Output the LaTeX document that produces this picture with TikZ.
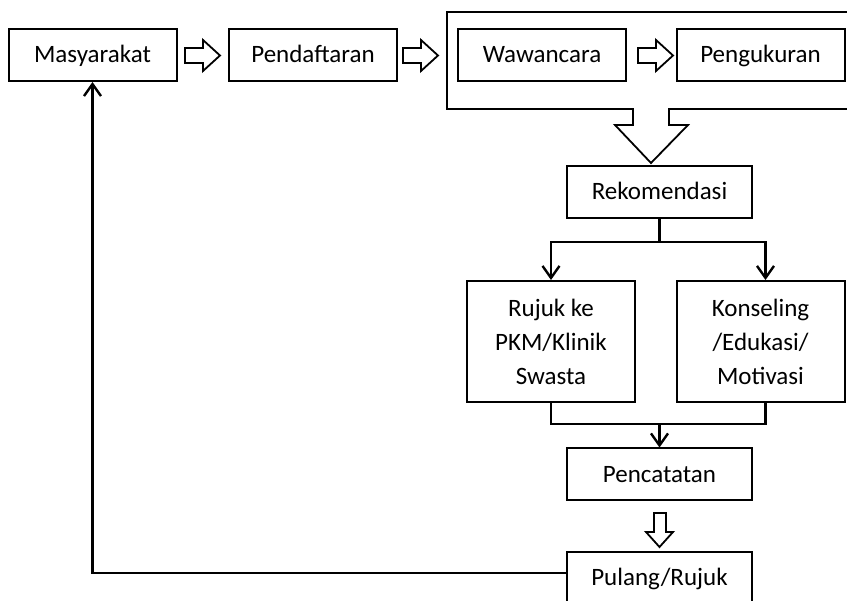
\documentclass[tikz,border=0pt]{standalone}
\usepackage{fontspec}
\setmainfont{Carlito}
\usetikzlibrary{arrows.meta}

\begin{document}
\begin{tikzpicture}[x=1pt, y=-1pt,
    base/.style = {draw, line width=2pt, minimum width=168pt, minimum height=52pt,
                  inner sep=0pt, align=center, font=\fontsize{25}{34}\selectfont},
    box/.style = {base, text height=18pt, text depth=2pt},
    wide/.style = {box, minimum width=185pt},
    tall/.style = {base, minimum height=121pt},
    conn/.style = {line width=2.4pt},
    flow/.style = {conn, -{Straight Barb[length=12pt,width=17pt]}},
    hollow/.style = {draw, line width=1.8pt, line join=miter}]
        \useasboundingbox (0,0) rectangle (847,601);
        \clip (0,0) rectangle (847,601);
        % top row
        \node[box] (masy) at (92.5,55) {Masyarakat};
        \node[box] (pend) at (313,55) {Pendaftaran};
        \node[box] (waw) at (542,55) {Wawancara};
        \node[box] (peng) at (760.5,55) {Pengukuran};
        \node[wide] (rek) at (659.5,192) {Rekomendasi};
        \node[tall] (rujuk) at (551,341.5) {Rujuk ke\\PKM/Klinik\\Swasta};
        \node[tall] (kons) at (760.5,341.5) {Konseling\\/Edukasi/\\Motivasi};
        \node[wide] (pen) at (659.5,474.5) {Pencatatan};
        \node[wide] (pul) at (659.5,578) {Pulang/Rujuk};
        % hollow arrows to the right
        \foreach \x in {185,403,638}{
            \draw[hollow] (\x,48) -- ++(18,0) -- ++(0,-8) -- ++(17,15.5) -- ++(-17,15.5)
                -- ++(0,-8) -- ++(-18,0) -- cycle;
        }
        % group frame and its big arrow
        \draw[hollow] (900,12) -- (447,12) -- (447,109) -- (633,109) -- (633,125) -- (615,125)
            -- (651,163) -- (688,125) -- (669,125) -- (669,109) -- (900,109);
        \draw[hollow] (654,513) -- (666,513) -- (666,532) -- (673,532) -- (659.5,547)
            -- (646,532) -- (654,532) -- cycle;
        % connectors
        \draw[conn] (rek.south) -- ++(0,23) coordinate (split);
        \draw[flow] (split) -| (rujuk.north);
        \draw[flow] (split) -| ([xshift=5pt]kons.north);
        \draw[conn] (rujuk.south) -- ++(0,21) coordinate (merge) -| ([xshift=5pt]kons.south);
        \draw[flow] (merge -| pen.north) -- (pen.north);
        \draw[flow] ([yshift=5pt]pul.west) -| (masy.south);
    \end{tikzpicture}
\end{document}
